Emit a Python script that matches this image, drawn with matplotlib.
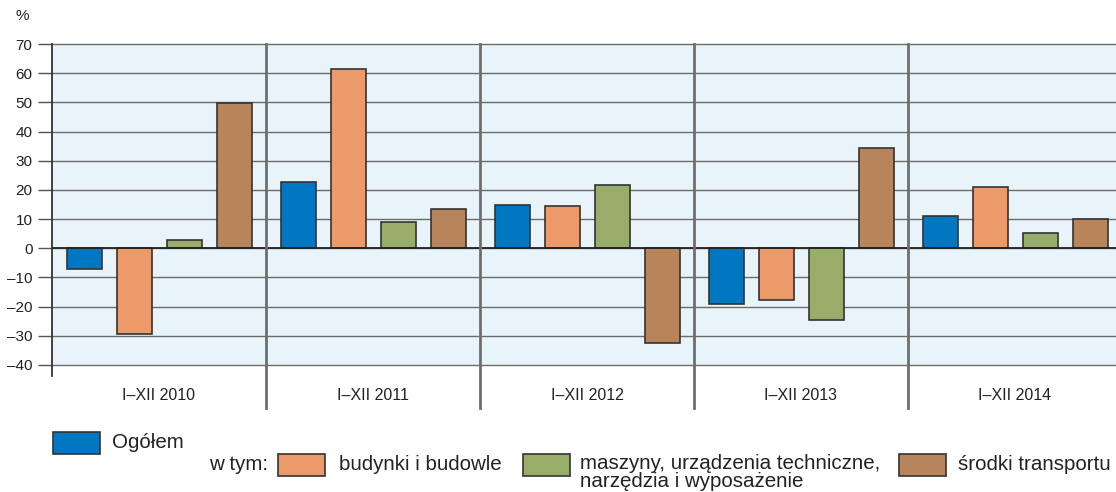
import numpy as np
import matplotlib
matplotlib.use("Agg")
from matplotlib import pyplot as plt
from matplotlib.patches import Rectangle

plt.rcParams['font.family'] = ['Liberation Sans', 'DejaVu Sans']

periods = ["I\u2013XII 2010", "I\u2013XII 2011", "I\u2013XII 2012", "I\u2013XII 2013", "I\u2013XII 2014"]
series_names = ["Ogółem", "budynki i budowle",
                "maszyny, urządzenia techniczne,\nnarzędzia i wyposażenie", "środki transportu"]
ogolem = [-7.0, 22.7, 14.8, -19.2, 11.0]
budynki = [-29.3, 61.4, 14.4, -17.8, 21.1]
maszyny = [2.7, 8.9, 21.6, -24.7, 5.3]
transport = [49.8, 13.4, -32.3, 34.3, 10.0]
yticks = list(range(-40, 71, 10))

colors = ["#0077c0", "#ec9a6a", "#98ad6a", "#b8845c"]
edge = "#333333"
W, H = 1116, 492

fig = plt.figure(figsize=(W / 100, H / 100), dpi=100)
ax = fig.add_axes([52 / W, (H - 365) / H, 1070 / W, 321 / H])
ax.set_facecolor("#e8f3fa")
ax.set_xlim(0, 5)
ax.set_ylim(-40, 70)

offsets = [-0.348, -0.114, 0.119, 0.353]
bw = 0.164
x = np.arange(len(periods)) + 0.5
for vals, off, c in zip([ogolem, budynki, maszyny, transport], offsets, colors):
    ax.bar(x + off, vals, width=bw, color=c, edgecolor=edge, linewidth=1.2, zorder=3)

for y in yticks:
    ax.axhline(y, color="#6b6b6b", lw=1.0, zorder=1, clip_on=False)
ax.axhline(0, color="#222222", lw=1.3, zorder=4)

for s in ["top", "right", "bottom", "left"]:
    ax.spines[s].set_visible(False)
ax.plot([0, 0], [-43.6, 70], color="#333333", lw=1.3, clip_on=False, zorder=5)

for g in range(1, 5):
    ax.plot([g, g], [-54.9, 70], color="#6e6e6e", lw=2.0, clip_on=False, zorder=5)

ax.set_yticks(yticks)
ax.set_yticklabels([str(v).replace("-", "\u2013") for v in yticks], fontsize=11, color="#222222")
ax.tick_params(axis="y", length=10, width=1.0, color="#555555", pad=4)
ax.set_xticks([])
for xi, lab in zip(x, periods):
    ax.text(xi, -50.3, lab, ha="center", va="center", fontsize=11.5, color="#222222", clip_on=False)

fig.text(22 / W, 1 - 16 / H, "%", fontsize=11, ha="center", va="center", color="#222222")

# legend
def key(x0, y0, c):
    fig.patches.append(Rectangle((x0 / W, 1 - (y0 + 22) / H), 47 / W, 22 / H,
                                 transform=fig.transFigure, facecolor=c,
                                 edgecolor=edge, linewidth=1.2))

fs = 14.8
key(53, 432, colors[0])
fig.text(112 / W, 1 - 442 / H, series_names[0], fontsize=fs, va="center", color="#222222")
fig.text(209 / W, 1 - 465 / H, "w tym:", fontsize=fs, va="center", color="#222222")
key(278, 454, colors[1])
fig.text(339 / W, 1 - 465 / H, series_names[1], fontsize=fs, va="center", color="#222222")
key(523, 454, colors[2])
fig.text(580 / W, 1 - 454 / H, series_names[2], fontsize=fs, va="top", color="#222222",
         linespacing=0.95)
key(899, 454, colors[3])
fig.text(958 / W, 1 - 465 / H, series_names[3], fontsize=fs, va="center", color="#222222")

fig.savefig("out.png", dpi=100)
